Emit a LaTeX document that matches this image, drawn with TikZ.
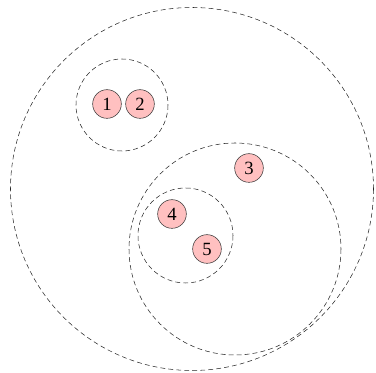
\documentclass[tikz,border=0pt]{standalone}
\usepackage{fontspec}
\setmainfont{Liberation Serif}
\usepackage{tikz}
\usetikzlibrary{positioning}
\usepackage{xcolor}
\definecolor{rose}{HTML}{FFC0C0}
\definecolor{rim}{HTML}{333333}
\tikzset{
  elem/.style={circle, draw=rim, fill=rose, thin, minimum size=21.5pt, inner sep=0pt, font=\fontsize{14}{16}\selectfont},
  group/.style={draw=black!85, thin, dash pattern=on 3.6pt off 2.4pt}
}

\begin{document}
\begin{tikzpicture}[x=0.75pt, y=-0.75pt]
  \useasboundingbox (0,0) rectangle (376,373);
  % clusters
  \draw[group] (192,189) circle (181.5);
  \draw[group] (122,105) circle (46);
  \draw[group] (235,249) circle (106);
  \draw[group] (185.5,235.5) circle (47.5);
  % elements
  \node[elem] (n1) at (107,104) {1};
  \node[elem] (n2) at (140,104) {2};
  \node[elem] (n3) at (249,168) {3};
  \node[elem] (n4) at (172,214) {4};
  \node[elem] (n5) at (207,249) {5};
\end{tikzpicture}
\end{document}
